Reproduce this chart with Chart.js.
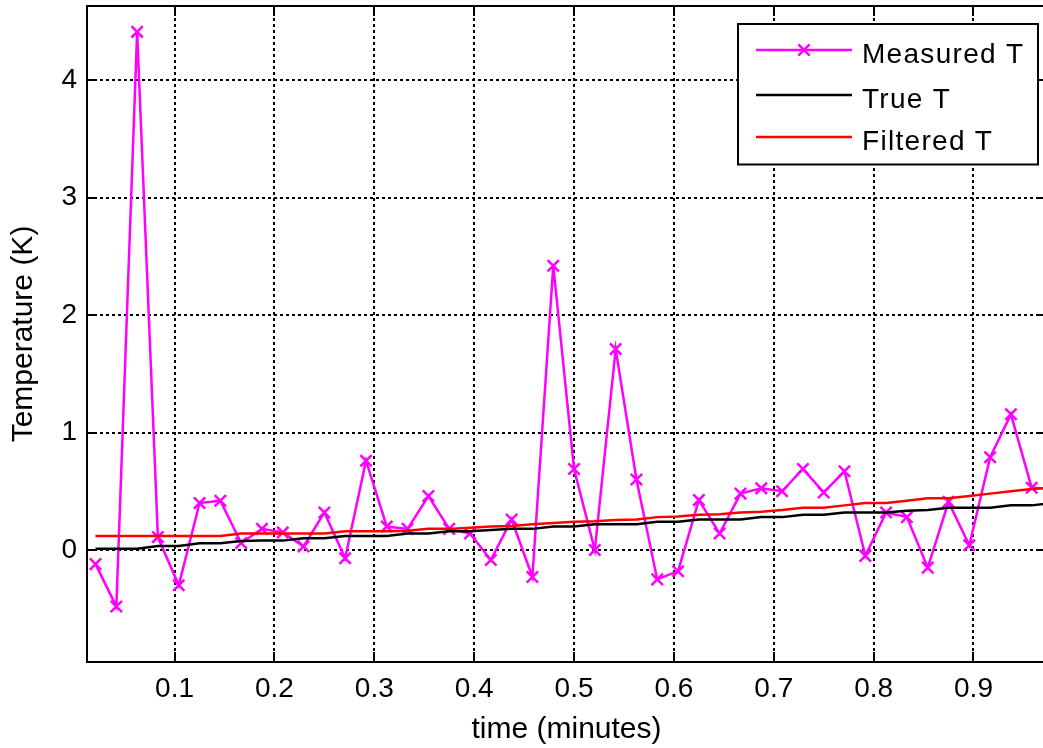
<!DOCTYPE html>
<html>
<head>
<meta charset="utf-8">
<title>Temperature filtering</title>
<script src="https://cdn.jsdelivr.net/npm/chart.js@4.4.0/dist/chart.umd.min.js"></script>
<style>
  html, body { margin: 0; padding: 0; background: #ffffff; overflow: hidden; }
  #wrap { width: 1043px; height: 748px; overflow: hidden; position: relative; }
  canvas { display: block; }
</style>
</head>
<body>
<div id="wrap"><canvas id="chart" width="1046" height="748"></canvas></div>
<script>
// ---- data ----
const timeMinutes = [0.0208, 0.0417, 0.0625, 0.0833, 0.1042, 0.125, 0.1458, 0.1667, 0.1875, 0.2083,
  0.2292, 0.25, 0.2708, 0.2917, 0.3125, 0.3333, 0.3542, 0.375, 0.3958, 0.4167,
  0.4375, 0.4583, 0.4792, 0.5, 0.5208, 0.5417, 0.5625, 0.5833, 0.6042, 0.625,
  0.6458, 0.6667, 0.6875, 0.7083, 0.7292, 0.75, 0.7708, 0.7917, 0.8125, 0.8333,
  0.8542, 0.875, 0.8958, 0.9167, 0.9375, 0.9583, 0.9792];

const measuredT = [-0.12, -0.48, 4.41, 0.11, -0.30, 0.40, 0.42, 0.06, 0.18, 0.15,
  0.03, 0.32, -0.07, 0.76, 0.20, 0.18, 0.46, 0.18, 0.14, -0.085,
  0.26, -0.23, 2.42, 0.69, 0.00, 1.71, 0.60, -0.25, -0.18, 0.425,
  0.14, 0.48, 0.525, 0.50, 0.69, 0.49, 0.67, -0.05, 0.32, 0.28,
  -0.15, 0.41, 0.04, 0.79, 1.155, 0.53, 0.52];

const trueT = [0.01, 0.01, 0.01, 0.035, 0.035, 0.057, 0.057, 0.077, 0.08, 0.08,
  0.10, 0.10, 0.12, 0.12, 0.12, 0.14, 0.14, 0.16, 0.16, 0.17,
  0.18, 0.18, 0.20, 0.20, 0.22, 0.22, 0.22, 0.24, 0.24, 0.26,
  0.26, 0.26, 0.28, 0.28, 0.30, 0.30, 0.32, 0.32, 0.32, 0.335,
  0.34, 0.36, 0.36, 0.36, 0.38, 0.38, 0.40];

const filteredT = [0.12, 0.12, 0.12, 0.12, 0.12, 0.12, 0.12, 0.14, 0.14, 0.14,
  0.14, 0.14, 0.16, 0.16, 0.16, 0.165, 0.18, 0.18, 0.19, 0.20,
  0.205, 0.22, 0.23, 0.24, 0.245, 0.255, 0.26, 0.28, 0.285, 0.30,
  0.305, 0.32, 0.325, 0.34, 0.36, 0.36, 0.38, 0.40, 0.40, 0.42,
  0.44, 0.44, 0.46, 0.48, 0.50, 0.52, 0.53];

const seriesLabels = ['Measured T', 'True T', 'Filtered T'];
const xTickValues = [0.1, 0.2, 0.3, 0.4, 0.5, 0.6, 0.7, 0.8, 0.9];
const xTickLabels = ['0.1', '0.2', '0.3', '0.4', '0.5', '0.6', '0.7', '0.8', '0.9'];
const yTickValues = [0, 1, 2, 3, 4];
const yTickLabels = ['0', '1', '2', '3', '4'];
const xTitle = 'time (minutes)';
const yTitle = 'Temperature (K)';

// ---- styling ----
const FONT = "'Liberation Sans', Arial, Helvetica, sans-serif";

function pts(ys) { return timeMinutes.map((t, i) => ({ x: t, y: ys[i] })); }

function noPad(s) { s.paddingTop = 0; s.paddingBottom = 0; s.paddingLeft = 0; s.paddingRight = 0; }

const axesBoxPlugin = {
  id: 'axesBox',
  beforeDatasetsDraw(chart) {
    const { ctx, chartArea: a, scales: { x, y } } = chart;
    const tl = 10;
    ctx.save();
    ctx.strokeStyle = '#000';
    ctx.lineWidth = 2;
    ctx.setLineDash([]);
    ctx.beginPath();
    ctx.moveTo(a.left - 1, a.top); ctx.lineTo(a.right + 1, a.top);
    ctx.moveTo(a.right, a.top); ctx.lineTo(a.right, a.bottom);
    x.ticks.forEach(t => {
      const px = Math.round(x.getPixelForValue(t.value));
      ctx.moveTo(px, a.bottom); ctx.lineTo(px, a.bottom - tl);
      ctx.moveTo(px, a.top); ctx.lineTo(px, a.top + tl);
    });
    y.ticks.forEach(t => {
      const py = Math.round(y.getPixelForValue(t.value));
      ctx.moveTo(a.left, py); ctx.lineTo(a.left + tl, py);
      ctx.moveTo(a.right, py); ctx.lineTo(a.right - tl, py);
    });
    ctx.stroke();
    ctx.restore();
  }
};

const boxLegendPlugin = {
  id: 'boxLegend',
  afterDraw(chart) {
    const ctx = chart.ctx;
    const bx = 738, by = 24, bw = 300, bh = 140.5;
    ctx.save();
    ctx.fillStyle = '#fff';
    ctx.fillRect(bx, by, bw, bh);
    ctx.strokeStyle = '#000';
    ctx.lineWidth = 2;
    ctx.setLineDash([]);
    ctx.strokeRect(bx, by, bw, bh);
    const rowY = [50, 95, 137];
    chart.data.datasets.forEach((ds, i) => {
      const yy = rowY[i];
      ctx.strokeStyle = ds.borderColor;
      ctx.lineWidth = ds.borderWidth;
      ctx.beginPath();
      ctx.moveTo(756, yy); ctx.lineTo(852, yy);
      ctx.stroke();
      if (ds.pointRadius > 0) {
        const r = ds.pointRadius * Math.SQRT1_2;
        ctx.lineWidth = ds.pointBorderWidth;
        ctx.beginPath();
        ctx.moveTo(804 - r, yy - r); ctx.lineTo(804 + r, yy + r);
        ctx.moveTo(804 - r, yy + r); ctx.lineTo(804 + r, yy - r);
        ctx.stroke();
      }
      ctx.fillStyle = '#000';
      ctx.font = '28px ' + FONT;
      if ('letterSpacing' in ctx) ctx.letterSpacing = '1.3px';
      ctx.textAlign = 'left';
      ctx.textBaseline = 'alphabetic';
      ctx.fillText(ds.label, 862, yy + 12.5);
    });
    ctx.restore();
  }
};

new Chart(document.getElementById('chart'), {
  type: 'line',
  data: {
    datasets: [
      {
        label: seriesLabels[0], data: pts(measuredT),
        borderColor: '#ff00ff', backgroundColor: '#ff00ff', borderWidth: 2.5,
        pointStyle: 'crossRot', pointRadius: 8, pointBorderWidth: 2.5,
        pointBorderColor: '#ff00ff', order: 2, tension: 0
      },
      {
        label: seriesLabels[1], data: pts(trueT),
        borderColor: '#000000', backgroundColor: '#000000', borderWidth: 2.5,
        pointRadius: 0, order: 1, tension: 0
      },
      {
        label: seriesLabels[2], data: pts(filteredT),
        borderColor: '#ff0000', backgroundColor: '#ff0000', borderWidth: 2.5,
        pointRadius: 0, order: 0, tension: 0
      }
    ]
  },
  options: {
    responsive: false,
    animation: false,
    devicePixelRatio: 1,
    layout: { autoPadding: false, padding: { top: 6, left: 0, right: 0, bottom: 0 } },
    plugins: { legend: { display: false }, tooltip: { enabled: false } },
    events: [],
    scales: {
      x: {
        type: 'linear',
        min: 0.0123, max: 0.9726,
        afterBuildTicks: s => { s.ticks = xTickValues.map(v => ({ value: v })); },
        afterFit: s => { s.height = 86; noPad(s); },
        grid: { color: '#000', lineWidth: 2, drawTicks: false },
        border: { display: true, color: '#000', width: 2, dash: [3, 3] },
        ticks: {
          padding: 10, color: '#000', autoSkip: false, maxRotation: 0,
          font: { family: FONT, size: 28 },
          callback: v => { const i = xTickValues.indexOf(v); return i >= 0 ? xTickLabels[i] : ''; }
        },
        title: {
          display: true, text: xTitle, color: '#000',
          font: { family: FONT, size: 30 }, padding: { top: 0, bottom: 0 }
        }
      },
      y: {
        type: 'linear',
        min: -0.953, max: 4.63,
        afterBuildTicks: s => { s.ticks = yTickValues.map(v => ({ value: v })); },
        afterFit: s => { s.width = 87; noPad(s); },
        grid: { color: '#000', lineWidth: 2, drawTicks: false },
        border: { display: true, color: '#000', width: 2, dash: [3, 3] },
        ticks: {
          padding: 10, color: '#000',
          font: { family: FONT, size: 28 },
          callback: v => { const i = yTickValues.indexOf(v); return i >= 0 ? yTickLabels[i] : ''; }
        },
        title: {
          display: true, text: yTitle, color: '#000',
          font: { family: FONT, size: 30 }, padding: { top: 6, bottom: 0 }
        }
      }
    }
  },
  plugins: [axesBoxPlugin, boxLegendPlugin]
});
</script>
</body>
</html>
